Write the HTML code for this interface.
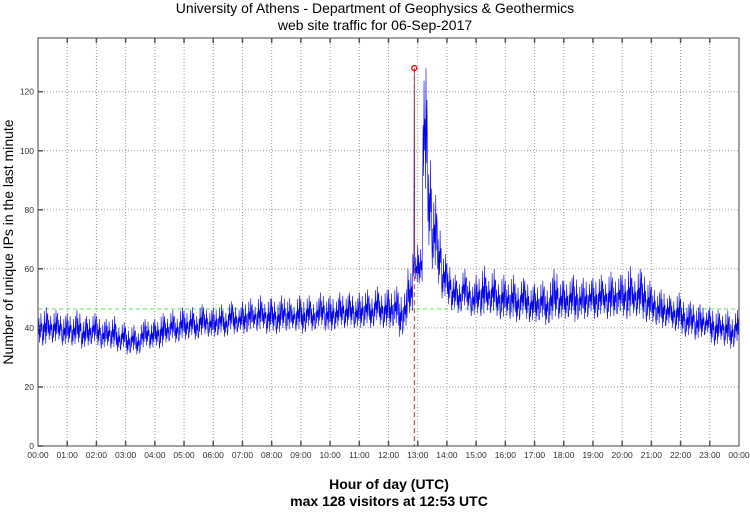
<!DOCTYPE html>
<html><head><meta charset="utf-8"><style>
html,body{margin:0;padding:0;background:#fff;}
svg text{font-family:"Liberation Sans",sans-serif;}
</style></head><body>
<svg id="chart" width="750" height="511" xmlns="http://www.w3.org/2000/svg">
<text x="375" y="13" text-anchor="middle" font-size="14">University of Athens - Department of Geophysics &amp; Geothermics</text>
<text x="375" y="30" text-anchor="middle" font-size="14">web site traffic for 06-Sep-2017</text>
<g id="grid"></g>
<g id="series"></g>
<g id="axes"></g>
<text x="0" y="0" transform="translate(13,242) rotate(-90)" text-anchor="middle" font-size="14">Number of unique IPs in the last minute</text>
<text x="389" y="489" text-anchor="middle" font-size="14" font-weight="bold">Hour of day (UTC)</text>
<text x="389" y="506" text-anchor="middle" font-size="14" font-weight="bold">max 128 visitors at 12:53 UTC</text>
</svg>
<script>
const loVals=[35,34,36,35,36,34, 35,34,35,33,34,35, 34,33,34,33,32,33, 31,32,31,33,34,33, 34,33,35,36,35,36, 36,37,36,37,38,37, 37,38,37,39,38,39, 38,39,40,39,40,38, 39,38,40,39,40,39, 38,40,39,40,41,39, 39,40,41,40,41,40, 40,41,40,42,41,40, 40,41,37,40,45,55, 55,85,68,60,55,50, 48,46,45,47,46,44, 45,44,46,45,44,43, 44,43,42,44,43,42, 42,43,41,42,44,43, 43,44,42,44,43,45, 43,44,45,43,44,45, 44,43,45,44,43,42, 42,41,40,41,40,39, 38,37,38,36,37,38, 35,34,36,34,33,35];
const hiVals=[46,47,45,46,45,44, 45,44,46,43,44,45, 44,42,43,44,41,42, 40,41,39,42,43,42, 43,45,44,46,44,47, 46,47,45,48,47,46, 47,48,46,49,48,47, 49,50,48,51,49,50, 50,49,51,50,48,51, 50,51,49,50,52,50, 51,50,52,51,52,50, 52,53,51,54,52,53, 53,54,52,53,60,128, 68,128,100,85,75,65, 62,58,56,60,57,55, 58,61,57,60,56,58, 56,58,55,57,56,54, 55,56,54,57,60,56, 56,57,58,55,57,56, 57,58,56,59,57,58, 58,61,57,60,59,56, 54,52,53,51,50,52, 50,48,49,47,48,46, 47,46,45,46,44,46];
const yTicks=[0,20,40,60,80,100,120];
const xTickLabels=["00:00","01:00","02:00","03:00","04:00","05:00","06:00","07:00","08:00","09:00","10:00","11:00","12:00","13:00","14:00","15:00","16:00","17:00","18:00","19:00","20:00","21:00","22:00","23:00","00:00"];
const maxValue=128;
const maxMinute=773;
const meanValue=46.4;

const L=38,R=739,T=38,B=446;
const xs=m=>L+m/1440*(R-L);
const ys=v=>B-v*(B-91.7)/120;
const NS="http://www.w3.org/2000/svg";
function mk(tag,attrs,parent){const e=document.createElementNS(NS,tag);for(const k in attrs)e.setAttribute(k,attrs[k]);parent.appendChild(e);return e;}
const grid=document.getElementById('grid'),axes=document.getElementById('axes'),series=document.getElementById('series');

xTickLabels.forEach((lab,h)=>{
  const x=xs(h*60);
  if(h>0&&h<24){const g=mk('line',{x1:x,x2:x,y1:T,y2:B,stroke:'#999','stroke-width':1,'stroke-dasharray':'1,2'},grid);
  
  
  const t1=mk('line',{x1:x,x2:x,y1:B,y2:B-5,stroke:'#555','stroke-width':1.5},axes);
  
  
  const t2=mk('line',{x1:x,x2:x,y1:T,y2:T+5,stroke:'#555','stroke-width':1.5},axes);
  
  }
  const t=mk('text',{x:x,y:B+12,'text-anchor':'middle','font-size':8.5,fill:'#333'},axes);
  t.textContent=lab;
  
  
});
yTicks.forEach(v=>{
  const y=ys(v);
  if(v>0){const g=mk('line',{x1:L,x2:R,y1:y,y2:y,stroke:'#999','stroke-width':1,'stroke-dasharray':'1,2'},grid);
  
  }
  const tk=mk('line',{x1:L,x2:L+5,y1:y,y2:y,stroke:'#555','stroke-width':1.5},axes);
  
  
  const t=mk('text',{x:L-4,y:y+3,'text-anchor':'end','font-size':8.5,fill:'#333'},axes);
  t.textContent=v;
  
  
});
const frame=mk('rect',{x:L,y:T,width:R-L,height:B-T,fill:'none',stroke:'#444','stroke-width':1},axes);



const mean=mk('line',{x1:L,x2:R,y1:ys(meanValue),y2:ys(meanValue),stroke:'#66dd66','stroke-width':1,'stroke-dasharray':'4,3'},series);



// fixed texture pattern (fractions within each bin's lo..hi range)
const texture=[1,0.25,0.75,0,0.55,0.15,0.9,0.35,0.6,0.05];
let pts=[];
loVals.forEach((lo,i)=>{
  const hi=hiVals[i];
  const peak=hi-lo>45;
  texture.forEach((f,k)=>{
    let v;
    if(peak){ v=(k===3)?hi:lo+10*f; }
    else { const ff=(i%2)?texture[(k+3)%10]:f; v=lo+(hi-lo)*ff; }
    pts.push(xs(i*10+k).toFixed(2)+','+ys(v).toFixed(2));
  });
});
const pl=mk('polyline',{points:pts.join(' '),fill:'none',stroke:'#0000ee','stroke-width':0.6},series);



const mx=xs(maxMinute);
const vl=mk('line',{x1:mx,x2:mx,y1:ys(maxValue),y2:B,stroke:'#ee2222','stroke-width':1,'stroke-dasharray':'5,3'},series);


const c=mk('circle',{cx:mx,cy:ys(maxValue),r:2.5,fill:'none',stroke:'#ee0000','stroke-width':1.3},series);


</script>
</body></html>
